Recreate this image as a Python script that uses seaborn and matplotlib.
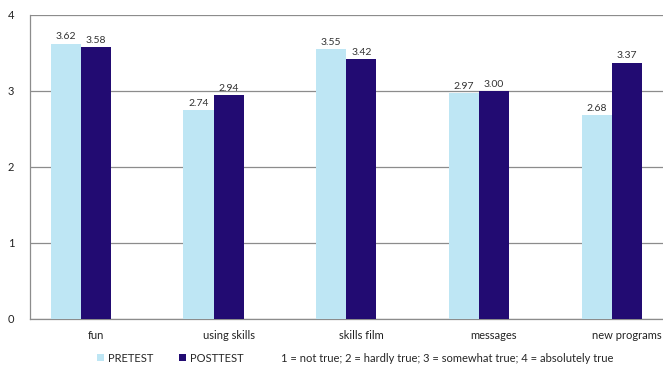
import numpy as np
import pandas as pd
import matplotlib
matplotlib.use('Agg')
import matplotlib.pyplot as plt
import seaborn as sns

# Data
categories = ["fun", "using skills", "skills film", "messages", "new programs"]
pretest = [3.62, 2.74, 3.55, 2.97, 2.68]
posttest = [3.58, 2.94, 3.42, 3.00, 3.37]
series = ["PRETEST", "POSTTEST", "1 = not true; 2 = hardly true; 3 = somewhat true; 4 = absolutely true"]

# third series is empty (only shows up as legend text, like in the original)
df = pd.DataFrame({
    "category": categories * 3,
    "score": pretest + posttest + [0.0] * len(categories),
    "series": [series[0]] * 5 + [series[1]] * 5 + [series[2]] * 5,
})

sns.set_style("white")
plt.rcParams['font.family'] = ['Lato', 'DejaVu Sans']

fig = plt.figure(figsize=(6.63, 3.69), dpi=100)
ax = fig.add_axes([29.5 / 663, 1 - 318.7 / 369, 1 - 29.5 / 663, (318.7 - 14.7) / 369])

palette = {series[0]: "#BEE6F4", series[1]: "#220B72", series[2]: "#FFFFFF"}
sns.barplot(data=df, x="category", y="score", hue="series", hue_order=series,
            palette=palette, width=0.68, linewidth=0, saturation=1, ax=ax, zorder=3)

# value labels on the two real series
for cont in ax.containers[:2]:
    ax.bar_label(cont, fmt="%.2f", padding=1.5, fontsize=7.5, color="#333333")

ax.set_ylim(0, 4)
ax.set_yticks([0, 1, 2, 3, 4])
ax.set_xlim(-0.5, 4.274)
ax.set_xlabel("")
ax.set_ylabel("")
ax.yaxis.grid(True, color="#8C8C8C", linewidth=0.9, zorder=0)
ax.set_axisbelow(True)

for side in ["top", "right"]:
    ax.spines[side].set_visible(False)
for side in ["left", "bottom"]:
    ax.spines[side].set_color("#8C8C8C")
    ax.spines[side].set_linewidth(0.9)

ax.set_xticks(np.arange(-0.5, 4.0, 1.0), minor=True)
ax.tick_params(axis="x", which="major", length=0, labelsize=8, pad=8, colors="#222222")
ax.tick_params(axis="x", which="minor", length=4, color="#8C8C8C", width=0.9)
ax.tick_params(axis="y", length=5, color="#8C8C8C", width=0.9, labelsize=8, pad=6, colors="#222222")
ax.tick_params(axis="y", colors="#8C8C8C", labelcolor="#222222")

sns.move_legend(ax, "center", bbox_to_anchor=(0.514, -0.13), ncol=3, frameon=False,
                title=None, fontsize=8, handlelength=0.6, handleheight=0.6,
                handletextpad=0.4, columnspacing=2.3)

fig.savefig("out.png", dpi=100)
